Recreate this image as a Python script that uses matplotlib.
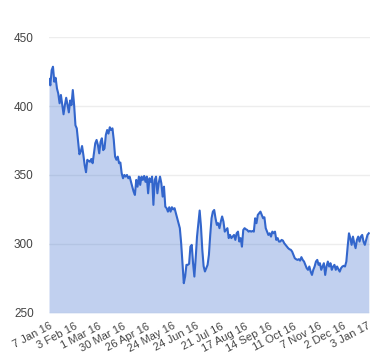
import numpy as np
import matplotlib
matplotlib.use("Agg")
import matplotlib.pyplot as plt

# values, in order (one per trading day roughly)
jan_mar = [419.6, 415, 426, 428.5, 417.6, 420.5, 412.8, 409, 402, 408, 400.7, 394,
           400.7, 406, 401, 395.4, 404, 400.7, 411.6, 400.7, 386, 383.8, 374, 365,
           367, 371, 364.5, 357, 352, 361, 360, 359.6, 361.6, 358.5]
mar_may = [365.7, 373, 375.4, 371.7, 365.7, 374, 376.6, 368, 369.3, 379, 382.6, 380,
           384.6, 382.6, 383.8, 375.4, 363.3, 361, 363.3, 358.5, 359, 351.2, 347.6,
           350, 348.8, 350, 347.6, 348.8, 345, 341.5, 338, 335.5, 346.4, 341.5, 348.8,
           342.8, 348.8, 346.4, 349.3, 345, 348.8]
may_jul = [336.7, 347.6, 345, 348.8, 328.3, 346.4, 348.8, 336.7, 344, 348.8, 344,
           334.3, 341.5, 327, 325.9, 323.4, 326.6, 323.4, 326.6, 325, 325.9, 322.2,
           318.6, 315, 311.4, 300.5, 286, 271.5, 276.3, 284.8, 284.8, 285.5, 298,
           299.3, 286, 276.3, 289.7, 305.3, 315, 324.2, 312.5, 295.7, 283.8, 280, 282.4]
jul_sep = [284.8, 292, 306.5, 318.6, 323.4, 324.6, 318.6, 313.8, 315, 311.4, 316.2,
           319.9, 316.2, 308.9, 310.1, 311.4, 304.2, 306.5, 304.2, 305.3, 306.5, 302.9,
           307.7, 308.9, 301.7, 304.2, 298, 310.1, 311.4, 310.6, 310.1, 308.9, 309.4,
           308.9, 309.4, 308.9, 318.6, 315, 321, 322.2]
sep_nov = [323.4, 321, 318.6, 319.3, 311.4, 308.9, 306.5, 307.7, 305.3, 308.9, 307.7,
           308.9, 302.9, 304.2, 301.7, 301.7, 302.9, 302.4, 300.5, 299.3, 298, 296.9,
           296.1, 295.7, 294.4, 292, 289.6, 288.9, 288.4, 288.9, 287.9, 290.4, 288.4,
           287.2, 284.8, 282.4, 281.2, 283.6, 279.9, 277.5, 281.2, 283.6]
nov_jan = [287.2, 288.4, 284.8, 286, 281.2, 283.6, 286, 277.5, 283.6, 287.2, 283.6,
           286, 281.2, 283.6, 284.8, 281.2, 283.6, 281.6, 279.9, 282.4, 283.6, 284.1,
           283.6, 287.2, 298, 307.7, 304.2, 299.3, 305.3, 300.5, 296.9, 302.9, 305.3,
           301.7, 305.3, 306.5, 301.7, 299.3, 302.9, 306.5, 307.7]

date_labels = ["7 Jan 16", "3 Feb 16", "1 Mar 16", "30 Mar 16", "26 Apr 16",
               "24 May 16", "24 Jun 16", "21 Jul 16", "17 Aug 16", "14 Sep 16",
               "11 Oct 16", "7 Nov 16", "2 Dec 16", "3 Jan 17"]
y_ticks = [250, 300, 350, 400, 450]

price = np.array(jan_mar + mar_may + may_jul + jul_sep + sep_nov + nov_jan)
idx = np.arange(len(price))

plt.rcParams['font.family'] = ['Liberation Sans', 'DejaVu Sans']

fig = plt.figure(figsize=(3.8, 3.6), dpi=100)
ax = fig.add_axes([0.129, 0.131, 0.845, 0.766])

ax.fill_between(idx, price, 250, color='#3366cc', alpha=0.3, linewidth=0)
ax.plot(idx, price, color='#3366cc', linewidth=1.5)

ax.set_ylim(250, 450)
ax.set_xlim(0, len(price))
ax.set_yticks(y_ticks)
ax.set_yticklabels([str(v) for v in y_ticks])
tick_pos = np.round(np.linspace(0, len(price) - 2, len(date_labels)))
ax.set_xticks(tick_pos)
ax.set_xticklabels(date_labels, rotation=28, ha='right', rotation_mode='anchor')

ax.grid(axis='y', color='#ededed', linewidth=1)
ax.set_axisbelow(True)
for s in ax.spines.values():
    s.set_visible(False)
ax.tick_params(axis='both', length=0, colors='#444444')
ax.tick_params(axis='y', pad=11, labelsize=8.5)
ax.tick_params(axis='x', pad=6, labelsize=8)

fig.savefig('out.png', dpi=100)
